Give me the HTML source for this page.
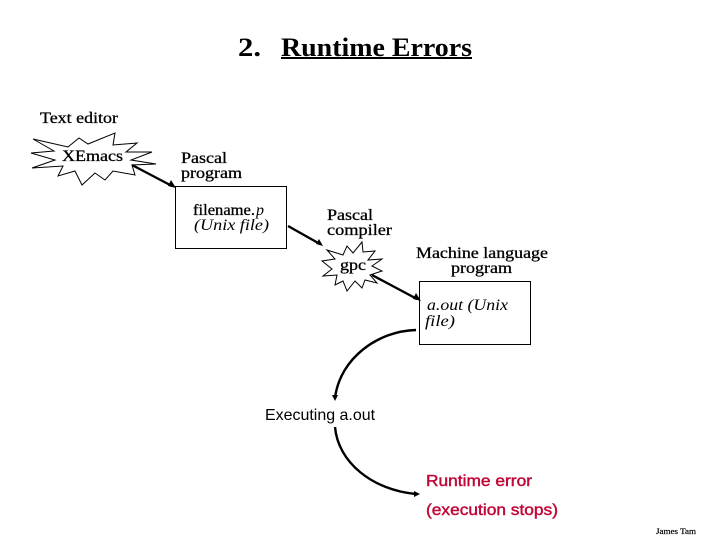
<!DOCTYPE html>
<html>
<head>
<meta charset="utf-8">
<style>
html,body{margin:0;padding:0;background:#fff;width:720px;height:540px;overflow:hidden}
svg{display:block}
.s{font-family:"Liberation Serif",serif;font-size:16px;fill:#000;stroke:#000;stroke-width:.3px}
.i{font-family:"Liberation Serif",serif;font-size:16px;font-style:italic;fill:#000}
.a{font-family:"Liberation Sans",sans-serif;font-size:16px;fill:#000}
.r{font-family:"Liberation Sans",sans-serif;font-size:16px;font-weight:normal;fill:#c00838;stroke:#c00838;stroke-width:.45px}
</style>
</head>
<body>
<svg width="720" height="540" viewBox="0 0 720 540" xmlns="http://www.w3.org/2000/svg">
<text x="238" y="56" font-family="Liberation Serif, serif" font-size="26" font-weight="bold" textLength="23" lengthAdjust="spacingAndGlyphs">2.</text>
<text x="281" y="56" font-family="Liberation Serif, serif" font-size="26" font-weight="bold" textLength="191" lengthAdjust="spacingAndGlyphs">Runtime Errors</text>
<rect x="281" y="57" width="191" height="2" fill="#000"/>

<text class="s" x="40" y="123" textLength="78" lengthAdjust="spacingAndGlyphs">Text editor</text>

<polygon points="33,139 68,147 79,138 88,144 115,133 113,145 137,143 126,152 152,152 131,160 156,164 132,165 135,175 113,171 105,180 95,173 82,185 75,171 58,176 63,166 32,168 55,160 31,153 54,151" fill="#fff" stroke="#000" stroke-width="1"/>
<text class="s" x="62" y="161" textLength="61" lengthAdjust="spacingAndGlyphs">XEmacs</text>

<text class="s" x="181" y="163" textLength="46" lengthAdjust="spacingAndGlyphs">Pascal</text>
<text class="s" x="181" y="178" textLength="61" lengthAdjust="spacingAndGlyphs">program</text>

<rect x="175.500" y="186.500" width="111" height="62" fill="#fff" stroke="#000" stroke-width="1"/>
<text class="s" x="193" y="215" textLength="62" lengthAdjust="spacingAndGlyphs">filename.</text>
<text class="i" x="256" y="215" font-size="16">p</text>
<text class="i" x="194" y="230" textLength="75" lengthAdjust="spacingAndGlyphs">(Unix file)</text>

<text class="s" x="327" y="220" textLength="46" lengthAdjust="spacingAndGlyphs">Pascal</text>
<text class="s" x="327" y="235" textLength="65" lengthAdjust="spacingAndGlyphs">compiler</text>

<polygon points="327,250 343,255 347,246 353,253 362,242 363,252 375,251 368,260 382,259 372,266 382,271 370,275 377,283 365,280 362,288 355,281 347,291 343,281 335,285 337,275 323,276 332,269 322,261 335,259" fill="#fff" stroke="#000" stroke-width="1"/>
<text class="s" x="340" y="270" textLength="26" lengthAdjust="spacingAndGlyphs">gpc</text>

<text class="s" x="416" y="258" textLength="132" lengthAdjust="spacingAndGlyphs">Machine language</text>
<text class="s" x="451" y="273" textLength="61" lengthAdjust="spacingAndGlyphs">program</text>

<rect x="419.500" y="281.500" width="111" height="63" fill="#fff" stroke="#000" stroke-width="1"/>
<text class="i" x="427" y="310" textLength="81" lengthAdjust="spacingAndGlyphs">a.out (Unix</text>
<text class="i" x="425" y="326" textLength="30" lengthAdjust="spacingAndGlyphs">file)</text>

<g stroke="#000" stroke-width="2.4" fill="none">
<line x1="132" y1="165" x2="172" y2="186"/>
<line x1="288" y1="226" x2="320" y2="244"/>
<line x1="372" y1="275" x2="417" y2="299"/>
<path d="M416 330 C378 331 340 358 335 398"/>
<path d="M335 427 C338 462 372 490 416 494"/>
</g>
<g fill="#000">
<polygon points="176,188 168,186 171,180"/>
<polygon points="323,246 316,244 319,239"/>
<polygon points="421,301 413,299 416,293"/>
<polygon points="335,401 332,395 338,395"/>
<polygon points="420,494 414,491 414,497"/>
</g>

<text class="a" x="265" y="420" textLength="110" lengthAdjust="spacingAndGlyphs">Executing a.out</text>
<text class="r" x="426" y="486" textLength="106" lengthAdjust="spacingAndGlyphs">Runtime error</text>
<text class="r" x="426" y="515" textLength="132" lengthAdjust="spacingAndGlyphs">(execution stops)</text>

<text x="656" y="534" font-family="Liberation Serif, serif" font-size="8" stroke="#000" stroke-width=".2" textLength="40" lengthAdjust="spacingAndGlyphs">James  Tam</text>
</svg>
</body>
</html>
